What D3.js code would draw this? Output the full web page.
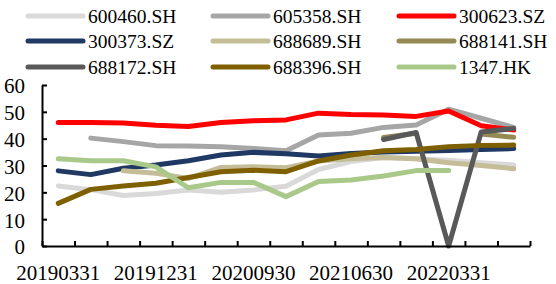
<!DOCTYPE html>
<html>
<head>
<meta charset="utf-8">
<script src="https://cdn.jsdelivr.net/npm/d3@7"></script>
<style>
  body { margin: 0; background: #fff; }
  svg text { font-family: "Liberation Serif", "Times New Roman", serif; fill: #000; }
</style>
</head>
<body>
<svg id="chart" width="556" height="284"></svg>
<script>
// quarter-end report dates
const dates = ["20190331", "20190630", "20190930", "20191231", "20200331", "20200630",
  "20200930", "20201231", "20210331", "20210630", "20210930", "20211231",
  "20220331", "20220630", "20220930"];
const tickLabels = ["20190331", "20191231", "20200930", "20210630", "20220331"];
const yTicks = [0, 10, 20, 30, 40, 50, 60];

const names = ["600460.SH", "605358.SH", "300623.SZ", "300373.SZ", "688689.SH",
  "688141.SH", "688172.SH", "688396.SH", "1347.HK"];
const colors = ["#d9d9d9", "#a6a6a6", "#ff0000", "#1f3864", "#c4bd97",
  "#948a54", "#595959", "#7f6000", "#a9c98a"];

// values (null = no data)
const s600460 = [22.4, 21.0, 18.8, 19.6, 20.9, 20.0, 20.9, 22.3, 28.5, 31.5, 33.0, 32.5, 32.0, 31.0, 30.2];
const s605358 = [null, 40.2, 38.9, 37.4, 37.3, 37.0, 36.3, 35.5, 41.4, 42.0, 44.2, 45.1, 51.0, 47.6, 44.2];
const s300623 = [46.0, 46.0, 45.8, 45.0, 44.5, 46.0, 46.7, 47.0, 49.5, 49.0, 48.8, 48.3, 50.3, 44.8, 43.2];
const s300373 = [28.0, 26.6, 29.0, 30.2, 31.8, 33.9, 34.9, 34.4, 33.5, 34.5, 35.0, 35.3, 35.6, 36.0, 36.3];
const s688689 = [null, null, 28.0, 27.1, 25.2, 29.3, 29.5, 29.2, 31.7, 32.5, 33.0, 32.5, 31.0, 30.0, 28.8];
const s688141 = [null, null, null, null, null, null, null, null, null, null, 40.4, 42.0, null, 41.7, 40.5];
const s688172 = [null, null, null, null, null, null, null, null, null, null, 39.7, 42.3, 0, 42.5, 43.8];
const s688396 = [15.9, 21.1, 22.4, 23.4, 25.5, 27.7, 28.2, 27.7, 31.7, 33.9, 35.5, 36.0, 37.0, 37.5, 37.6];
const s1347 = [32.5, 31.8, 31.8, 29.5, 21.7, 23.7, 23.7, 18.4, 24.0, 24.6, 26.1, 28.1, 28.1, null, null];

const series = [s600460, s605358, s300623, s300373, s688689, s688141, s688172, s688396, s1347];

const svg = d3.select("#chart");
const plotLeft = 42, plotRight = 530, plotTop = 85, plotBottom = 246;

const x = d3.scaleBand().domain(dates).range([plotLeft, plotRight]).padding(0);
const xIdx = d3.scaleLinear().domain([0, dates.length]).range([plotLeft, plotRight]);
const y = d3.scaleLinear().domain([0, 60]).range([plotBottom, plotTop]);

// lines
const line = d3.line()
  .defined(d => d != null)
  .x((d, i) => x(dates[i]) + x.bandwidth() / 2)
  .y(d => y(d));

svg.append("g").selectAll("path")
  .data(series)
  .join("path")
  .attr("d", d => line(d))
  .attr("fill", "none")
  .attr("stroke", (d, i) => colors[i])
  .attr("stroke-width", 5)
  .attr("stroke-linejoin", "round")
  .attr("stroke-linecap", "round");

// y axis
const yAxis = svg.append("g")
  .attr("transform", `translate(${plotLeft},0)`)
  .call(d3.axisLeft(y).tickValues(yTicks).tickSize(-5).tickPadding(17).tickSizeOuter(0));
yAxis.select(".domain").attr("stroke", "#000").attr("stroke-width", 2);
yAxis.selectAll(".tick line").attr("stroke", "#000").attr("stroke-width", 2);
yAxis.selectAll("text").style("font-size", "21px").attr("dy", "0.38em");

// x axis: ticks on category boundaries
const xAxis = svg.append("g")
  .attr("transform", `translate(0,${plotBottom})`)
  .call(d3.axisBottom(xIdx).tickValues(d3.range(dates.length + 1)).tickSize(-5).tickFormat("").tickSizeOuter(0));
xAxis.select(".domain").attr("stroke", "#000").attr("stroke-width", 2);
xAxis.selectAll(".tick line").attr("stroke", "#000").attr("stroke-width", 2);

svg.append("g").selectAll("text")
  .data(tickLabels)
  .join("text")
  .attr("x", d => x(d) + x.bandwidth() / 2)
  .attr("y", 280)
  .attr("text-anchor", "middle")
  .style("font-size", "21px")
  .text(d => d);

// legend, 3 columns
const colX = [28, 213, 399];
const rowY = [16, 41, 67];
const leg = svg.append("g").selectAll("g")
  .data(names)
  .join("g")
  .attr("transform", (d, i) => `translate(${colX[i % 3]},${rowY[Math.floor(i / 3)]})`);
leg.append("line")
  .attr("x1", 0).attr("x2", 55)
  .attr("stroke", (d, i) => colors[i])
  .attr("stroke-width", 5)
  .attr("stroke-linecap", "round");
leg.append("text")
  .attr("x", 60)
  .attr("y", 7)
  .style("font-size", "19.5px")
  .text(d => d);
</script>
</body>
</html>
